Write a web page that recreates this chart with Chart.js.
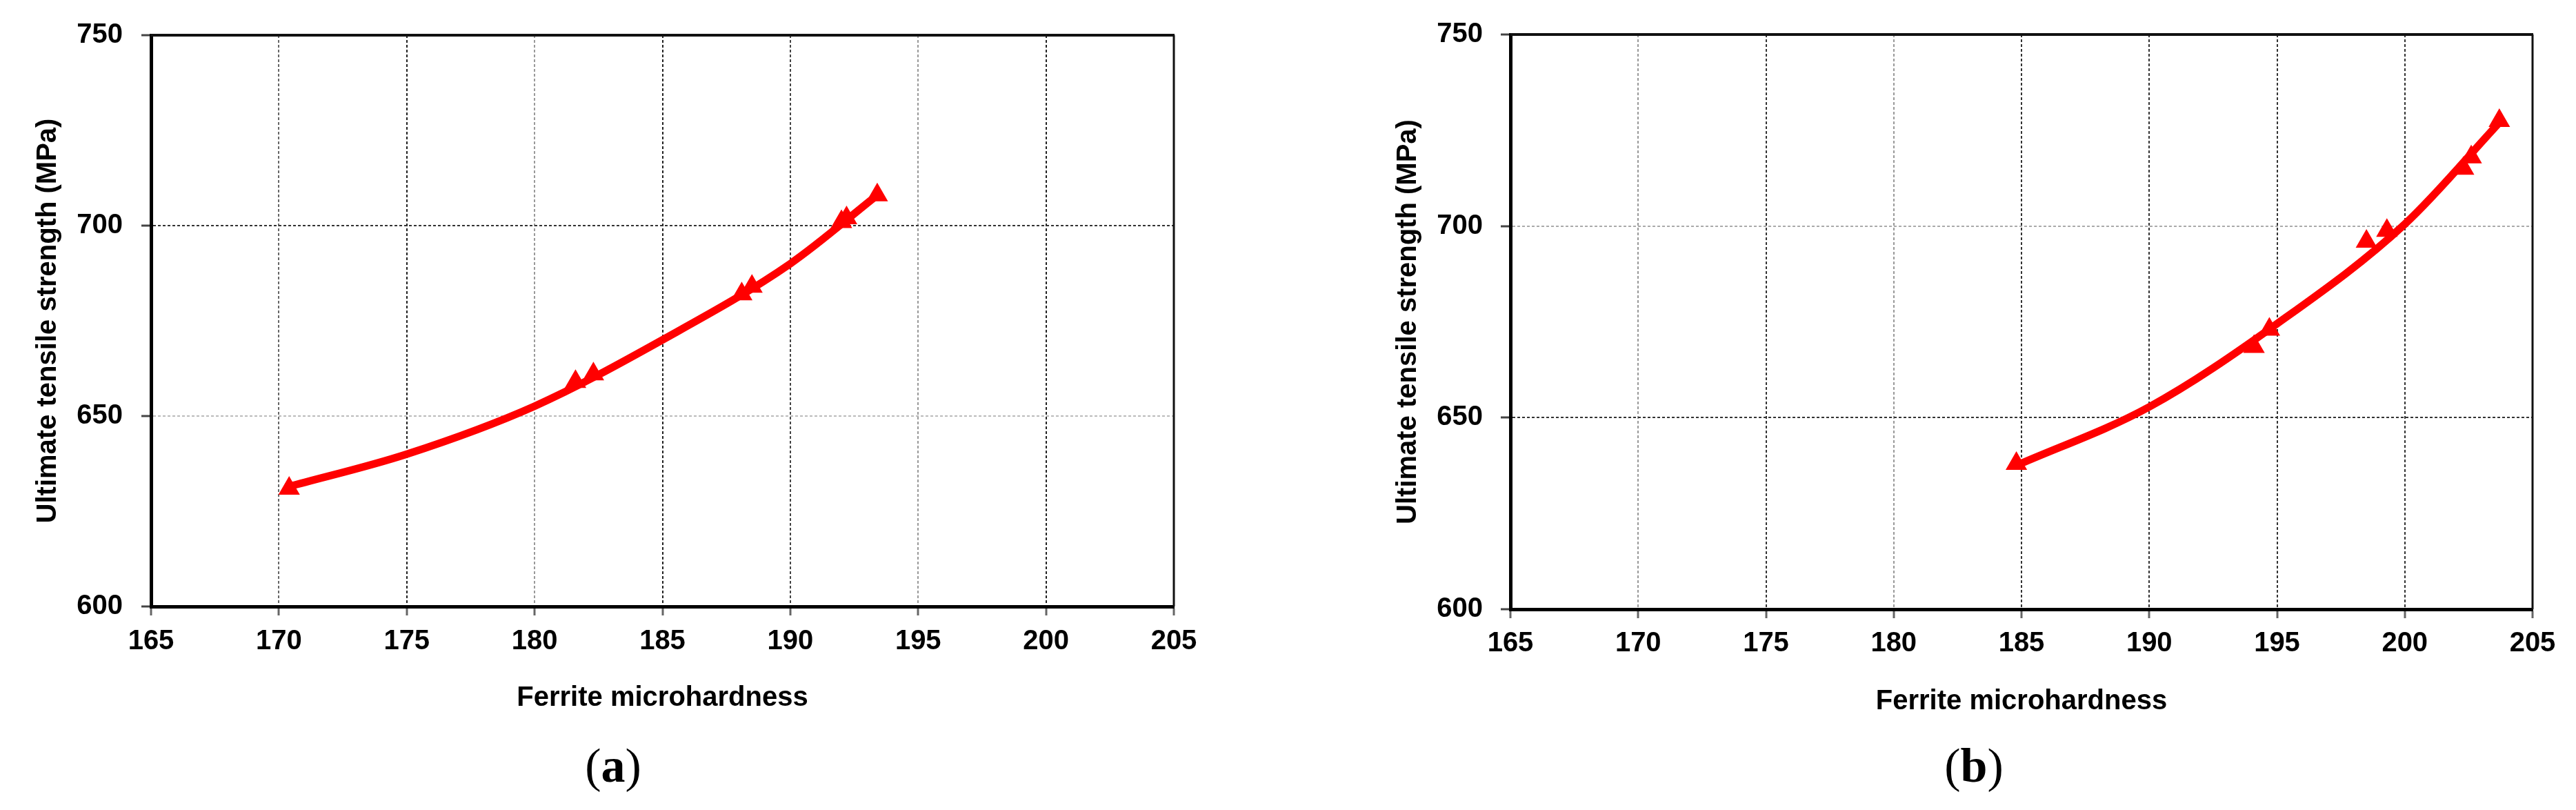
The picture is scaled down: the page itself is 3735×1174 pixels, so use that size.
<!DOCTYPE html>
<html>
<head>
<meta charset="utf-8">
<script src="https://cdn.jsdelivr.net/npm/chart.js@4.4.1/dist/chart.umd.min.js"></script>
<style>
  html, body { margin: 0; padding: 0; background: #fff; }
  body { width: 3735px; height: 1174px; position: relative; overflow: hidden; }
  .box { position: absolute; top: 0; }
  .cap {
    position: absolute;
    font-family: "Liberation Serif", "Times New Roman", serif;
    font-size: 70px;
    color: #000;
    transform: translate(-50%, -50%);
    white-space: nowrap;
  }
</style>
</head>
<body>
<div class="box" style="left:0;width:1750px;height:1036px"><canvas id="chartA"></canvas></div>
<div class="box" style="left:1900px;width:1835px;height:1041px"><canvas id="chartB"></canvas></div>
<div class="cap" style="left:889px;top:1110px">(<b>a</b>)</div>
<div class="cap" style="left:2862px;top:1110px">(<b>b</b>)</div>

<script>
// Ferrite microhardness vs UTS, two panels

const xTicks = [165, 170, 175, 180, 185, 190, 195, 200, 205];
const yTicks = [600, 650, 700, 750];
const xTitle = 'Ferrite microhardness';
const yTitle = 'Ultimate tensile strength (MPa)';

// panel (a)
const hardnessA = [170.4, 181.6, 182.3, 188.1, 188.5, 192.0, 192.2, 193.4];
const strengthA = [631, 659, 661, 682, 684, 701, 702, 708];
const fitHardnessA = [170.4, 175, 180, 185, 190, 193.4];
const fitStrengthA = [631.5, 640, 652.6, 670, 690, 708];

// panel (b)
const hardnessB = [184.8, 194.1, 194.7, 198.5, 199.3, 202.3, 202.6, 203.7];
const strengthB = [638, 668.5, 673, 696, 698.8, 715, 718, 727.5];
const fitHardnessB = [184.8, 190, 195, 200, 203.7];
const fitStrengthB = [637.5, 652.8, 674.5, 700.5, 727];

const RED = '#ff0000';

Chart.defaults.font.family = '"Liberation Sans", Arial, sans-serif';
Chart.defaults.font.size = 40;
Chart.defaults.font.weight = 'bold';
Chart.defaults.color = '#000';
Chart.defaults.animation = false;
Chart.defaults.devicePixelRatio = 1;

// top and right edges of the plot box
const framePlugin = {
  id: 'frame',
  beforeDatasetsDraw(chart) {
    const { ctx, chartArea: a } = chart;
    ctx.save();
    ctx.strokeStyle = '#111';
    ctx.lineWidth = 4;
    ctx.beginPath(); ctx.moveTo(a.left, a.top); ctx.lineTo(a.right + 1, a.top); ctx.stroke();
    ctx.lineWidth = 3;
    ctx.beginPath(); ctx.moveTo(a.right, a.top); ctx.lineTo(a.right, a.bottom); ctx.stroke();
    ctx.restore();
  }
};

function points(xs, ys) {
  return xs.map((x, i) => ({ x: x, y: ys[i] }));
}

function makeChart(id, fitX, fitY, ptX, ptY, lay) {
  const ctx = document.getElementById(id).getContext('2d');
  return new Chart(ctx, {
    type: 'line',
    data: {
      datasets: [
        {
          label: 'fit',
          data: points(fitX, fitY),
          borderColor: RED,
          borderWidth: 11,
          pointRadius: 0,
          cubicInterpolationMode: 'monotone',
          fill: false
        },
        {
          label: 'measured',
          data: points(ptX, ptY),
          showLine: false,
          pointStyle: 'triangle',
          pointRadius: 15,
          pointBorderWidth: 3,
          pointBackgroundColor: RED,
          pointBorderColor: RED
        }
      ]
    },
    options: {
      responsive: true,
      maintainAspectRatio: false,
      layout: { padding: { top: lay.top, right: lay.right, left: 0, bottom: 0 } },
      plugins: { legend: { display: false }, tooltip: { enabled: false } },
      scales: {
        x: {
          type: 'linear',
          min: xTicks[0],
          max: xTicks[xTicks.length - 1],
          afterBuildTicks: (s) => { s.ticks = xTicks.map((v) => ({ value: v })); },
          afterFit: (s) => { s.height = lay.xHeight; },
          ticks: { padding: lay.xPad, maxRotation: 0, autoSkip: false },
          grid: {
            color: (c) => lay.xGrid[c.index] || '#333',
            lineWidth: 2,
            tickLength: 13,
            tickColor: '#666',
            tickWidth: 3
          },
          border: { color: '#000', width: 5, dash: [4, 3] },
          title: { display: true, text: xTitle, padding: { top: 0, bottom: 0 } }
        },
        y: {
          type: 'linear',
          min: yTicks[0],
          max: yTicks[yTicks.length - 1],
          afterBuildTicks: (s) => { s.ticks = yTicks.map((v) => ({ value: v })); },
          afterFit: (s) => { s.width = lay.yWidth; },
          ticks: { padding: lay.yPad },
          grid: {
            color: (c) => lay.yGrid[c.index] || '#333',
            lineWidth: 2,
            tickLength: 14,
            tickColor: '#444',
            tickWidth: 3
          },
          border: { color: '#000', width: 5, dash: [4, 3] },
          title: { display: true, text: yTitle, padding: { top: lay.yTitlePad, bottom: 0 } }
        }
      }
    },
    plugins: [framePlugin]
  });
}

makeChart('chartA', fitHardnessA, fitStrengthA, hardnessA, strengthA, {
  top: 41, right: 48, xHeight: 157, yWidth: 219, xPad: 14, yPad: 27, yTitlePad: 46,
  xGrid: ['#333', '#666', '#222', '#999', '#222', '#444', '#999', '#222', '#222'],
  yGrid: ['#222', '#bbb', '#333', '#222']
});

makeChart('chartB', fitHardnessB, fitStrengthB, hardnessB, strengthB, {
  top: 45, right: 63, xHeight: 158, yWidth: 290, xPad: 13, yPad: 26, yTitlePad: 118,
  xGrid: ['#333', '#999', '#333', '#999', '#333', '#333', '#333', '#333', '#222'],
  yGrid: ['#222', '#333', '#aaa', '#222']
});
</script>
</body>
</html>
